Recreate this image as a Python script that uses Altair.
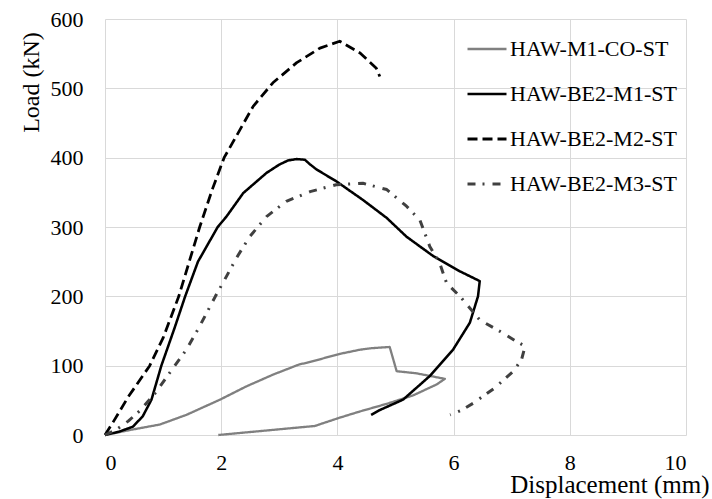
import altair as alt
import pandas as pd

series_names = ["HAW-M1-CO-ST", "HAW-BE2-M1-ST", "HAW-BE2-M2-ST", "HAW-BE2-M3-ST"]

# HAW-M1-CO-ST (gray)
co_x = [0, 0.48, 0.94, 1.40, 1.98, 2.43, 2.89, 3.35, 3.47, 4.04, 4.39, 4.56, 4.90, 5.02, 5.36, 5.85,
        5.71, 5.30, 4.85, 4.39, 4.04, 3.61, 1.95]
co_y = [0, 8, 15, 29, 51, 70, 87, 102, 104, 117, 123, 125, 127, 92, 89, 81,
        73, 57, 45, 34, 25, 13, 0]

# HAW-BE2-M1-ST (solid black)
m1_x = [0, 0.25, 0.48, 0.65, 0.80, 0.97, 1.2, 1.38, 1.6, 1.94, 2.09, 2.38, 2.78, 3.0, 3.15, 3.3, 3.44,
        3.52, 3.64, 3.98, 4.44, 4.85, 5.19, 5.42, 5.65, 6.11, 6.45, 6.42, 6.28, 5.99, 5.59, 5.13, 4.73, 4.58]
m1_y = [0, 5, 12, 27, 51, 100, 155, 200, 250, 300, 315, 349, 378, 390, 396, 398, 397,
        391, 383, 366, 339, 313, 286, 272, 258, 236, 222, 200, 162, 123, 85, 51, 36, 29]

# HAW-BE2-M2-ST (dashed black)
m2_x = [0, 0.15, 0.4, 0.77, 1.0, 1.27, 1.45, 1.63, 1.85, 2.05, 2.26, 2.55, 2.89, 3.30, 3.70, 4.04,
        4.39, 4.67, 4.73]
m2_y = [0, 20, 55, 100, 140, 200, 250, 300, 355, 400, 431, 474, 508, 537, 558, 568,
        551, 529, 517]

# HAW-BE2-M3-ST (dash-dot)
m3_x = [0, 0.2, 0.4, 0.6, 0.88, 1.2, 1.4, 1.63, 1.9, 2.06, 2.26, 2.49, 2.78, 3.12, 3.53, 3.98, 4.44,
        4.85, 5.19, 5.42, 5.59, 5.76, 5.88, 6.11, 6.45, 6.85, 7.08, 7.23, 7.17, 7.03, 6.71, 6.34,
        6.14, 5.94]
m3_y = [0, 8, 20, 35, 62, 100, 123, 157, 200, 224, 255, 286, 315, 337, 351, 361, 363,
        354, 330, 310, 272, 248, 219, 200, 166, 147, 135, 128, 109, 92, 68, 46,
        36, 29]

x_ticks = [0, 2, 4, 6, 8, 10]
y_ticks = [0, 100, 200, 300, 400, 500, 600]

rows = []
for name, xs, ys in zip(series_names, [co_x, m1_x, m2_x, m3_x], [co_y, m1_y, m2_y, m3_y]):
    for i, (xv, yv) in enumerate(zip(xs, ys)):
        rows.append({"series": name, "disp": xv, "load": yv, "idx": i})
df = pd.DataFrame(rows)

FONT = "'Liberation Serif', 'Times New Roman', 'DejaVu Serif', serif"
GRID = "#d9d9d9"

chart = alt.Chart(df).mark_line(strokeCap="butt", strokeJoin="round").encode(
    x=alt.X("disp:Q",
            scale=alt.Scale(domain=[0, 10], nice=False),
            axis=alt.Axis(values=x_ticks, title="Displacement (mm)", grid=True, gridColor=GRID,
                          domain=False, ticks=False, tickSize=0, labelPadding=17,
                          titleX=604, titleY=57, titleAlign="right", titleBaseline="alphabetic",
                          titleAnchor="end", titleFontSize=25)),
    y=alt.Y("load:Q",
            scale=alt.Scale(domain=[0, 600], nice=False),
            axis=alt.Axis(values=y_ticks, title="Load (kN)", grid=True, gridColor=GRID,
                          domain=False, ticks=False, tickSize=0, labelPadding=22,
                          titleX=-67, titleY=63, titleAngle=270, titleAlign="center",
                          titleBaseline="alphabetic")),
    color=alt.Color("series:N",
                    scale=alt.Scale(domain=series_names, range=["#808080", "#000000", "#000000", "#404040"]),
                    legend=alt.Legend(title=None)),
    strokeDash=alt.StrokeDash("series:N",
                              scale=alt.Scale(domain=series_names, range=[[1, 0], [1, 0], [10, 5], [8, 7, 2, 8]]),
                              legend=alt.Legend(title=None)),
    strokeWidth=alt.StrokeWidth("series:N",
                                scale=alt.Scale(domain=series_names, range=[2.3, 3, 3.5, 1.3]),
                                legend=alt.Legend(title=None)),
    order="idx:Q",
).properties(
    width=581,
    height=416,
    autosize=alt.AutoSizeParams(type="none"),
    padding={"left": 105, "top": 19, "right": 26, "bottom": 64},
).configure_view(
    stroke=None
).configure_axis(
    labelFont=FONT, labelFontSize=22, labelColor="#000000",
    titleFont=FONT, titleFontSize=24, titleColor="#000000", titleFontWeight="normal",
).configure_legend(
    orient="none", legendX=361, legendY=9, padding=0,
    symbolType="stroke", symbolSize=1521, labelFont=FONT, labelFontSize=22,
    labelColor="#000000", labelOffset=2, rowPadding=13, labelLimit=300,
)

chart.save("out.html", embed_options={"renderer": "svg", "actions": False})
